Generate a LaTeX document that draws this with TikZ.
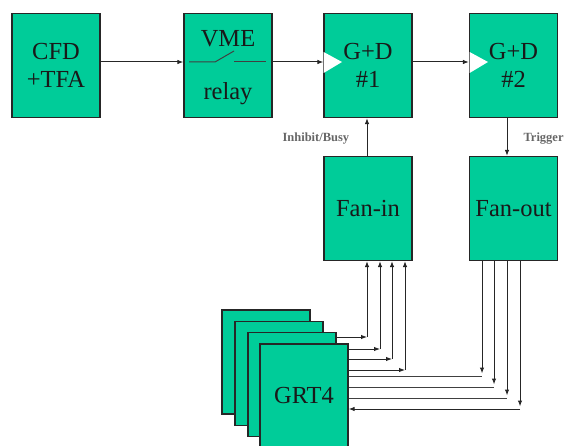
\documentclass[tikz,border=0pt]{standalone}
\usepackage{fontspec}
\setmainfont{Liberation Serif}
\usetikzlibrary{arrows.meta,calc}
\definecolor{boxgreen}{RGB}{0,204,153}
\begin{document}
\begin{tikzpicture}[x=1pt,y=-1pt,
  blk/.style={draw=black!85, line width=1.2pt, fill=boxgreen,
              minimum width=88pt, minimum height=104pt, inner sep=0pt,
              font=\fontsize{24.5}{28}\selectfont, align=center, text=black!90},
  lbl/.style={font=\fontsize{24.5}{28}\selectfont, text=black!90},
  tag/.style={font=\fontsize{12.5}{14}\selectfont\bfseries, text=black!60},
  arr/.style={line width=1pt, draw=black!85, -{Latex[length=6pt,width=4.5pt]}},
  wire/.style={line width=1pt, draw=black!75}]
\useasboundingbox (0,0) rectangle (564,446);

% signal chain along the top
\node[blk] (cfd) at (56,65.5) {CFD\\+TFA};
\node[blk] (vme) at (228,65.5) {};
\node[lbl, anchor=base] (vmetxt) at (228,47) {VME};
\node[lbl, anchor=base] (relaytxt) at (228,100) {relay};
\node[blk] (gd1) at (368,65.5) {G+D\\\#1};
\node[blk] (gd2) at (513.5,65.5) {G+D\\\#2};

% relay switch symbol
\draw[wire] (189,62) -- (215,62) -- (234,51);
\draw[wire] (234,62) -- (266,62);

% clock inputs of the gate & delay units
\fill[white] (323.6,52) -- (342,62) -- (323.6,73) -- cycle;
\fill[white] (469.6,52) -- (488,62) -- (469.6,73) -- cycle;

\coordinate (row) at (0,62);
\draw[arr] (cfd.east |- row) -- (vme.west |- row);
\draw[arr] (vme.east |- row) -- (gd1.west |- row);
\draw[arr] (gd1.east |- row) -- (gd2.west |- row);

% fan-in / fan-out units
\node[blk] (fanin) at (368,208.5) {Fan-in};
\node[blk] (fanout) at (513.5,208.5) {Fan-out};

\coordinate (ib) at (367,0);
\coordinate (tr) at (507,0);
\draw[arr] (fanin.north -| ib) -- (gd1.south -| ib);
\draw[arr] (gd2.south -| tr) -- (fanout.north -| tr);
\node[tag, anchor=west] (inhibit) at (279,139) {Inhibit/Busy};
\node[tag, anchor=west] (trigger) at (520,139) {Trigger};

% stack of GRT4 boards
\node[blk] (g1) at (266,362) {};
\node[blk] (g2) at (279,373.5) {};
\node[blk] (g3) at (292,384.5) {};
\node[blk] (g4) at (304,396) {GRT4};

% busy lines into the fan-in
\coordinate (i1) at (367,337);
\coordinate (i2) at (380,349);
\coordinate (i3) at (392,359);
\coordinate (i4) at (405,370);
\draw[arr] (g3.east |- i1) -- (i1);
\draw[arr] (g4.east |- i2) -- (i2);
\draw[arr] (g4.east |- i3) -- (i3);
\draw[arr] (g4.east |- i4) -- (i4);
\foreach \c in {i1,i2,i3,i4}
  \draw[arr] (\c) -- (\c |- fanin.south);

% trigger lines from the fan-out
\coordinate (o1) at (482,376);
\coordinate (o2) at (494,387);
\coordinate (o3) at (507,398);
\coordinate (o4) at (520,409);
\foreach \c in {o1,o2,o3,o4}
  \draw[arr, shorten >=2.5pt] (\c |- fanout.south) -- (\c);
\draw[wire] (g4.east |- o1) -- (o1);
\draw[wire] (g4.east |- o2) -- (o2);
\draw[wire] (g4.east |- o3) -- (o3);
\draw[arr] (o4) -- (g4.east |- o4);
\end{tikzpicture}
\end{document}
